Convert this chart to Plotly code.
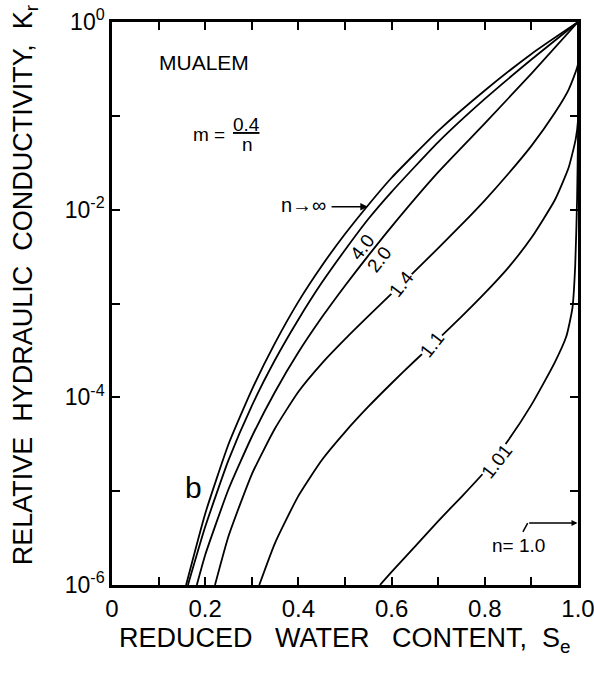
import numpy as np
import plotly.graph_objects as go

# Reduced water content (Se) and log10 of relative conductivity (Kr)
se_inf = [0.159, 0.20, 0.25, 0.30, 0.35, 0.40, 0.45, 0.50, 0.55, 0.60, 0.70, 0.80, 0.90, 1.00]
lk_inf = [-6.0, -5.24, -4.50, -3.92, -3.42, -2.98, -2.60, -2.26, -1.95, -1.66, -1.16, -0.73, -0.34, 0.0]

se_40 = [0.163, 0.20, 0.25, 0.30, 0.35, 0.40, 0.45, 0.50, 0.55, 0.60, 0.70, 0.80, 0.90, 1.00]
lk_40 = [-6.0, -5.38, -4.67, -4.09, -3.60, -3.17, -2.78, -2.43, -2.10, -1.81, -1.28, -0.82, -0.40, 0.0]

se_20 = [0.182, 0.20, 0.25, 0.30, 0.35, 0.40, 0.45, 0.50, 0.55, 0.60, 0.70, 0.80, 0.90, 1.00]
lk_20 = [-6.0, -5.68, -4.98, -4.42, -3.94, -3.52, -3.15, -2.81, -2.49, -2.18, -1.60, -1.08, -0.55, 0.0]

se_14 = [0.221, 0.25, 0.30, 0.35, 0.40, 0.45, 0.50, 0.55, 0.60, 0.65, 0.70, 0.75, 0.80, 0.85, 0.90, 0.95, 0.98, 1.00, 1.00]
lk_14 = [-6.0, -5.48, -4.82, -4.33, -3.94, -3.64, -3.38, -3.135, -2.895, -2.655, -2.41, -2.16, -1.90, -1.62, -1.32, -0.97, -0.72, -0.45, 0.0]

se_11 = [0.316, 0.35, 0.40, 0.45, 0.50, 0.55, 0.60, 0.65, 0.70, 0.75, 0.80, 0.85, 0.90, 0.95, 0.98, 0.995, 1.00, 1.00]
lk_11 = [-6.0, -5.55, -5.05, -4.67, -4.37, -4.10, -3.85, -3.61, -3.38, -3.14, -2.89, -2.62, -2.30, -1.90, -1.55, -1.25, -1.05, 0.0]

se_101 = [0.575, 0.60, 0.65, 0.70, 0.75, 0.80, 0.85, 0.90, 0.95, 0.975, 0.988, 0.994, 0.998, 1.00, 1.00]
lk_101 = [-6.0, -5.86, -5.59, -5.32, -5.06, -4.79, -4.46, -4.08, -3.63, -3.35, -3.05, -2.60, -1.90, -1.20, 0.0]

curves = [
    (se_inf, lk_inf), (se_40, lk_40), (se_20, lk_20),
    (se_14, lk_14), (se_11, lk_11), (se_101, lk_101),
]

x_tickvals = [0.0, 0.1, 0.2, 0.3, 0.4, 0.5, 0.6, 0.7, 0.8, 0.9, 1.0]
x_ticktext = ["0", "", "0.2", "", "0.4", "", "0.6", "", "0.8", "", "1.0"]
y_tickvals = [1e0, 1e-1, 1e-2, 1e-3, 1e-4, 1e-5, 1e-6]
y_ticktext = ["10<sup>0</sup>", "", "10<sup>-2</sup>", "", "10<sup>-4</sup>", "", "10<sup>-6</sup>"]

FONT = "Liberation Sans"

fig = go.Figure()
for se, lk in curves:
    fig.add_trace(go.Scatter(
        x=se, y=(10.0 ** np.array(lk)).tolist(), mode="lines",
        line=dict(color="black", width=1.8, shape="spline", smoothing=0.5),
        showlegend=False, hoverinfo="skip",
    ))

fig.update_layout(
    width=594, height=682,
    margin=dict(l=112, r=16, t=22, b=97, autoexpand=False),
    paper_bgcolor="white", plot_bgcolor="white",
    font=dict(family=FONT, color="black", size=20),
    showlegend=False,
)
fig.update_xaxes(
    range=[0, 1], tickvals=x_tickvals, ticktext=x_ticktext,
    ticks="inside", ticklen=8, tickwidth=1.5, tickcolor="black",
    showline=True, linecolor="black", linewidth=2.5, mirror="ticks",
    showgrid=False, zeroline=False, tickfont=dict(size=24),
    ticklabeloverflow="allow", automargin=False,
)
fig.update_yaxes(
    type="log", range=[-6, 0], tickvals=y_tickvals, ticktext=y_ticktext,
    ticks="inside", ticklen=8, tickwidth=1.5, tickcolor="black",
    showline=True, linecolor="black", linewidth=2.5, mirror="ticks",
    showgrid=False, zeroline=False, tickfont=dict(size=23),
    ticklabeloverflow="allow", automargin=False,
)

ann = []
ann.append(dict(x=0.5, y=-0.098, xref="paper", yref="paper",
                text="REDUCED&nbsp;&nbsp;&nbsp;WATER&nbsp;&nbsp;&nbsp;CONTENT,&nbsp;&nbsp;S<sub>e</sub>",
                showarrow=False, font=dict(size=27), xanchor="center", yanchor="middle"))
ann.append(dict(x=-0.186, y=0.533, xref="paper", yref="paper", textangle=-90,
                text="RELATIVE&nbsp;&nbsp;HYDRAULIC&nbsp;&nbsp;CONDUCTIVITY,&nbsp;&nbsp;K<sub>r</sub>",
                showarrow=False, font=dict(size=27), xanchor="center", yanchor="middle"))
# note: annotation y on a log axis is given as log10 of the value
ann.append(dict(x=0.197, y=-0.43, text="MUALEM", showarrow=False,
                font=dict(size=21), xanchor="center", yanchor="middle"))
ann.append(dict(x=0.208, y=-1.20, text="m =", showarrow=False,
                font=dict(size=19), xanchor="center", yanchor="middle"))
ann.append(dict(x=0.288, y=-1.09, text="<u>0.4</u>", showarrow=False,
                font=dict(size=19), xanchor="center", yanchor="middle"))
ann.append(dict(x=0.290, y=-1.31, text="n", showarrow=False,
                font=dict(size=19), xanchor="center", yanchor="middle"))
ann.append(dict(x=0.174, y=-4.96, text="b", showarrow=False,
                font=dict(size=30), xanchor="center", yanchor="middle"))
# n -> infinity label with arrow
ann.append(dict(x=0.549, y=-1.97, ax=0.468, ay=-1.97, axref="x", ayref="y",
                xref="x", yref="y", text="", showarrow=True, arrowhead=2,
                arrowsize=1, arrowwidth=1.5, arrowcolor="black"))
ann.append(dict(x=0.412, y=-1.95, text="n\u2192\u221e", showarrow=False,
                font=dict(size=20), xanchor="center", yanchor="middle"))
# n = 1.0 label with arrow to right edge
ann.append(dict(x=0.999, y=-5.34, ax=0.892, ay=-5.34, axref="x", ayref="y",
                xref="x", yref="y", text="", showarrow=True, arrowhead=2,
                arrowsize=0.8, arrowwidth=1.5, arrowcolor="black"))
ann.append(dict(x=0.892, y=-5.34, ax=0.880, ay=-5.45, axref="x", ayref="y",
                xref="x", yref="y", text="", showarrow=True, arrowhead=0,
                arrowwidth=1.5, arrowcolor="black"))
ann.append(dict(x=0.873, y=-5.58, text="n= 1.0", showarrow=False,
                font=dict(size=19), xanchor="center", yanchor="middle"))
# curve labels along curves
for txt, xs, lk, ang, bg in [("4.0", 0.536, -2.40, -52, None), ("2.0", 0.573, -2.53, -52, None),
                             ("1.4", 0.622, -2.79, -52, "white"), ("1.1", 0.687, -3.44, -52, "white"),
                             ("1.01", 0.825, -4.68, -52, "white")]:
    d = dict(x=xs, y=lk, text=txt, showarrow=False, textangle=ang,
             font=dict(size=19), xanchor="center", yanchor="middle", borderpad=0)
    if bg:
        d["bgcolor"] = bg
    ann.append(d)
fig.update_layout(annotations=ann)

fig.write_html("out.html")
